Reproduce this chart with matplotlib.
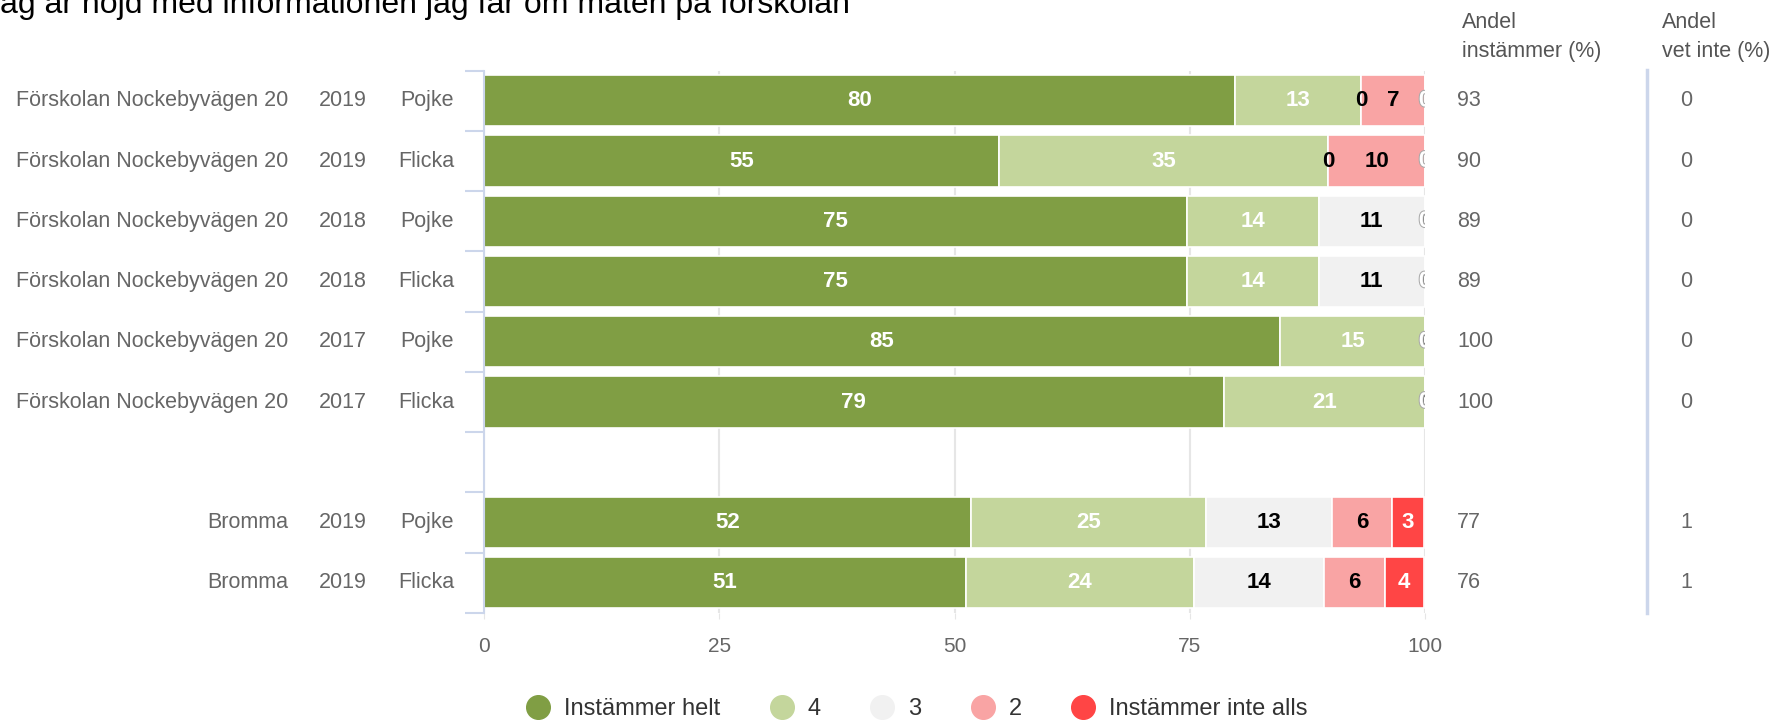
import matplotlib
matplotlib.use("Agg")
import matplotlib.pyplot as plt
import matplotlib.patheffects as pe
from matplotlib.lines import Line2D
from matplotlib.transforms import blended_transform_factory

plt.rcParams['font.family'] = ['Liberation Sans', 'DejaVu Sans']

# data, rows top to bottom (row 6 is an empty spacer row)
schools = ["Förskolan Nockebyvägen 20"] * 6 + ["", "Bromma", "Bromma"]
years = ["2019", "2019", "2018", "2018", "2017", "2017", "", "2019", "2019"]
genders = ["Pojke", "Flicka", "Pojke", "Flicka", "Pojke", "Flicka", "", "Pojke", "Flicka"]

helt = [79.8, 54.7, 74.7, 74.7, 84.6, 78.6, None, 51.8, 51.2]
fyra = [13.4, 35.0, 14.0, 14.0, 15.4, 21.4, None, 24.9, 24.2]
tre = [0, 0, 11.3, 11.3, 0, 0, None, 13.4, 13.9]
tva = [6.8, 10.3, 0, 0, 0, 0, None, 6.4, 6.4]
inte = [0, 0, 0, 0, 0, 0, None, 3.4, 4.2]

andel_instammer = [93, 90, 89, 89, 100, 100, None, 77, 76]
andel_vet_inte = [0, 0, 0, 0, 0, 0, None, 1, 1]

series_names = ["Instämmer helt", "4", "3", "2", "Instämmer inte alls"]
series_vals = [helt, fyra, tre, tva, inte]
colors = ["#809e44", "#c4d69c", "#f1f1f1", "#f9a4a4", "#ff4545"]
label_colors = ["white", "white", "black", "black", "white"]

title = "Jag är nöjd med informationen jag får om maten på förskolan"

W, H = 1787, 720
fig = plt.figure(figsize=(W / 100, H / 100), dpi=100)
ax = fig.add_axes([484 / W, 1 - 613 / H, (1425 - 484) / W, (613 - 70.7) / H])

n = len(schools)
left = [0.0] * n
for vals, col, tcol in zip(series_vals, colors, label_colors):
    for i, v in enumerate(vals):
        if v is None:
            continue
        ax.barh(i, v, left=left[i], height=0.85, color=col,
                edgecolor="white", linewidth=1.2, zorder=2)
        fx = []
        if v == 0 and tcol == "white":
            fx = [pe.withStroke(linewidth=1.5, foreground="#aaaaaa")]
        ax.text(left[i] + v / 2, i, f"{v:.0f}", ha="center", va="center",
                color=tcol, fontsize=16, fontweight="bold", zorder=4,
                clip_on=True, path_effects=fx)
        left[i] += v

ax.set_xlim(0, 100)
ax.set_ylim(n - 0.5, -0.5)
ax.set_xticks([0, 25, 50, 75, 100])
ax.grid(axis="x", color="#e6e6e6", linewidth=1.5, zorder=0)
ax.set_axisbelow(True)
ax.set_yticks([])
ax.set_yticks([i - 0.5 for i in range(n + 1)], minor=True)
ax.tick_params(axis="y", which="minor", length=14, width=1.5, color="#ccd6eb")
ax.tick_params(axis="x", length=4, color="#e6e6e6", labelsize=15,
               labelcolor="#666666", pad=13)
for s in ["top", "right", "bottom"]:
    ax.spines[s].set_visible(False)
ax.spines["left"].set_color("#ccd6eb")
ax.spines["left"].set_linewidth(1.5)

# category labels in three columns, plus the two value columns on the right
trans = blended_transform_factory(fig.transFigure, ax.transData)
for i in range(n):
    ax.text(288 / W, i, schools[i], transform=trans, ha="right", va="center",
            color="#666666", fontsize=15.5, clip_on=False)
    ax.text(367 / W, i, years[i], transform=trans, ha="right", va="center",
            color="#666666", fontsize=15.5, clip_on=False)
    ax.text(454 / W, i, genders[i], transform=trans, ha="right", va="center",
            color="#666666", fontsize=15.5, clip_on=False)
    if andel_instammer[i] is not None:
        ax.text(1457 / W, i, str(andel_instammer[i]), transform=trans,
                ha="left", va="center", color="#666666", fontsize=15.5, clip_on=False)
        ax.text(1680 / W, i, str(andel_vet_inte[i]), transform=trans,
                ha="left", va="center", color="#666666", fontsize=15.5, clip_on=False)

fig.text(1462 / W, 1 - 37 / H, "Andel\ninstämmer (%)", ha="left", va="center",
         color="#555555", fontsize=15.5, linespacing=1.55)
fig.text(1662 / W, 1 - 37 / H, "Andel\nvet inte (%)", ha="left", va="center",
         color="#555555", fontsize=15.5, linespacing=1.55)
fig.add_artist(Line2D([1647 / W, 1647 / W], [1 - 70 / H, 1 - 613 / H],
                      transform=fig.transFigure, color="#ccd6eb", linewidth=2.5))

fig.text(-16 / W, 1 - 13 / H, title, ha="left", va="baseline",
         color="black", fontsize=23)

handles = [Line2D([], [], marker="o", linestyle="", markersize=17,
                  markerfacecolor=c, markeredgecolor=c) for c in colors]
fig.legend(handles, series_names, loc="center", bbox_to_anchor=(917 / W, 1 - 709 / H),
           ncol=5, frameon=False, fontsize=17, handletextpad=0.6,
           columnspacing=2.1, handlelength=1.0, labelcolor="#333333")

fig.savefig("out.png", dpi=100)
